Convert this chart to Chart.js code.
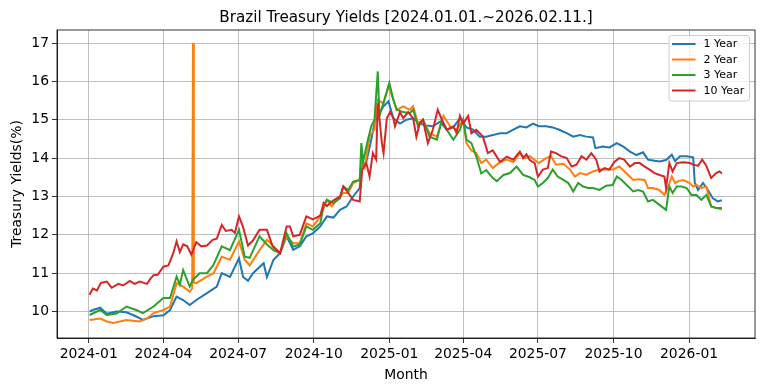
<!DOCTYPE html>
<html>
<head>
<meta charset="utf-8">
<title>Brazil Treasury Yields</title>
<script src="https://cdn.jsdelivr.net/npm/chart.js@4"></script>
<style>
  html, body { margin: 0; padding: 0; background: #fff; }
  canvas { display: block; }
</style>
</head>
<body>
<canvas id="chart" width="764" height="391"></canvas>
<script>
// day numbers are days since 2024-01-01, values are yields in %
const xTickDays   = [0, 91, 182, 274, 366, 456, 547, 639, 731];
const xTickLabels = ['2024-01', '2024-04', '2024-07', '2024-10', '2025-01', '2025-04', '2025-07', '2025-10', '2026-01'];
const yTicks      = [10, 11, 12, 13, 14, 15, 16, 17];

const oneYearDays = [1,5,14,22,34,46,58,66,79,91, 99,107,115,123,131,144,156,162,172,183,
  188,194,200,213,217,225,233,241,249,257, 265,273,282,290,298,306,314,322,330,332,
  338,344,348,352,359,365,371,379,387,395, 403,411,419,428,436,444,452,460,468,476,
  484,492,501,509,517,525,533,541,548,557, 565,573,582,590,598,606,614,617,626,634,
  643,651,659,667,675,681,687,695,703,710, 714,720,728,736,738,742,748,754,760,766, 771];
const oneYear = [10.0,10.04,10.1,9.94,10.0,9.98,9.87,9.78,9.88,9.9, 10.04,10.39,10.3,10.17,10.3,10.48,10.65,11.0,10.9,11.39,
  10.9,10.8,11.0,11.26,10.9,11.35,11.52,11.96,11.61,11.7, 11.96,12.04,12.22,12.48,12.45,12.65,12.74,13.0,13.22,13.78,
  13.9,14.48,14.91,15.1,15.35,15.48,15.04,14.9,15.0,15.04, 14.9,14.85,14.83,14.95,14.74,14.8,15.04,14.8,14.74,14.56,
  14.56,14.6,14.65,14.65,14.74,14.83,14.8,14.9,14.83,14.83, 14.8,14.74,14.65,14.56,14.6,14.56,14.54,14.26,14.3,14.28,
  14.39,14.3,14.17,14.08,14.15,13.96,13.94,13.91,13.95,14.09, 13.92,14.05,14.05,14.02,13.35,13.17,13.35,13.17,12.95,12.87, 12.9];

const twoYearDays = [1,14,22,30,46,62,71,79,91,99, 107,115,123,126,127,128,131,144,152,162,
  172,183,190,196,208,217,225,233,241,249, 257,265,273,282,290,296,302,310,316,322,
  330,332,336,342,348,352,359,365,371,375, 383,391,395,401,407,415,424,432,440,448,
  456,460,466,472,478,484,492,501,509,517, 525,531,537,543,548,557,563,569,578,586,
  592,598,606,614,622,630,638,646,655,663, 669,677,681,687,695,701,705,710,714,718,
  724,732,736,740,746,752,758,764,771];
const twoYear = [9.78,9.82,9.74,9.7,9.78,9.74,9.82,9.96,10.04,10.13, 10.74,10.65,10.52,10.6,17.0,10.75,10.74,10.91,11.0,11.43,
  11.35,11.83,11.35,11.2,11.6,11.87,11.7,11.52,11.96,11.78, 11.78,12.3,12.22,12.48,12.91,12.74,12.91,13.09,13.09,13.35,
  13.43,13.9,13.74,14.57,14.74,15.52,15.43,15.87,15.52,15.26, 15.35,15.26,15.35,14.9,15.0,14.65,14.56,15.1,14.83,14.74,
  15.0,14.39,14.2,14.13,13.87,13.96,13.74,13.9,13.96,13.9, 14.13,14.0,14.05,13.95,13.87,14.0,14.05,13.83,13.85,13.7,
  13.52,13.61,13.57,13.65,13.7,13.7,13.7,13.78,13.6,13.43, 13.45,13.43,13.22,13.22,13.17,13.04,13.22,13.52,13.35,13.4,
  13.43,13.35,13.26,13.3,13.22,13.26,12.74,12.7,12.66];

const threeYearDays = [1,14,22,34,46,58,66,79,91,99, 107,111,115,123,127,135,144,152,162,172,
  183,190,196,208,217,225,233,241,249,257, 265,273,282,286,290,298,306,310,316,322,
  330,332,334,340,344,348,352,354,360,366, 371,375,383,391,395,401,407,415,424,430,
  436,444,452,456,460,466,472,478,484,492, 497,505,513,521,529,537,543,547,553,559,
  565,571,578,584,590,596,602,608,614,622, 630,638,643,649,655,663,669,675,681,687,
  695,703,707,711,716,722,728,734,740,746, 752,758,764,771];
const threeYear = [9.91,10.04,9.91,9.95,10.13,10.04,9.96,10.13,10.35,10.35, 10.91,10.7,11.08,10.65,10.83,11.0,11.0,11.22,11.7,11.6,
  12.13,11.43,11.4,11.96,11.75,11.6,11.52,12.04,11.69,11.75, 12.22,12.13,12.3,12.75,12.91,12.83,12.95,13.26,13.17,13.39,
  13.43,14.39,13.9,14.48,14.83,15.0,16.26,15.1,15.52,15.96, 15.52,15.26,15.2,15.17,15.26,14.83,15.0,14.56,14.48,15.0,
  14.74,14.48,14.74,15.0,14.48,14.39,14.04,13.6,13.69,13.48, 13.4,13.56,13.61,13.78,13.56,13.5,13.43,13.26,13.35,13.48,
  13.7,13.52,13.43,13.35,13.13,13.35,13.26,13.22,13.22,13.17, 13.28,13.3,13.52,13.43,13.3,13.13,13.17,13.13,12.87,12.91,
  12.78,12.65,13.26,13.09,13.26,13.26,13.22,13.04,13.04,12.91, 13.04,12.74,12.7,12.7];

const tenYearDays = [1,5,10,15,22,28,36,42,50,56, 62,71,75,79,84,91,97,103,107,111,
  115,120,125,131,137,144,151,156,162,167, 174,178,183,188,194,200,208,217,224,233,
  241,245,249,257,265,273,282,286,290,298, 306,310,316,322,330,333,338,342,346,350,
  352,354,357,359,363,367,371,373,379,383, 389,395,399,403,407,413,419,425,432,436,
  444,448,452,456,462,466,472,480,486,492, 501,509,517,525,529,533,537,543,547,553,
  559,563,569,575,582,588,594,600,606,612, 618,622,628,634,640,646,652,659,665,671,
  677,683,689,695,701,703,707,711,716,724, 732,736,742,747,752,758,764,768,771];
const tenYear = [10.44,10.6,10.55,10.75,10.78,10.62,10.72,10.68,10.8,10.72, 10.78,10.72,10.85,10.95,10.96,11.17,11.2,11.52,11.83,11.55,
  11.75,11.7,11.48,11.81,11.7,11.72,11.87,11.9,12.26,12.1, 12.13,12.05,12.48,12.2,11.72,11.85,12.13,12.13,11.7,11.52,
  12.22,12.22,11.96,12.0,12.48,12.4,12.5,12.83,12.75,12.9, 13.0,13.26,13.09,12.91,12.87,13.7,13.87,13.52,14.13,13.96,
  15.43,15.04,14.39,14.13,15.04,15.2,15.04,14.83,15.2,15.04, 15.2,15.04,14.56,14.9,15.0,14.39,14.74,15.26,14.9,14.74,
  14.83,14.65,15.1,14.9,15.1,14.65,14.74,14.56,14.13,14.2, 13.9,14.04,13.96,14.17,14.0,14.1,13.95,13.87,13.52,13.7,
  13.74,14.17,14.13,14.05,14.0,13.78,13.83,14.05,13.96,14.13, 13.96,13.65,13.74,13.7,13.9,14.0,13.96,13.78,13.87,13.87,
  13.78,13.7,13.61,13.56,13.52,13.22,13.87,13.65,13.87,13.89, 13.87,13.83,13.8,13.96,13.8,13.48,13.61,13.65,13.6];

const seriesNames  = ['1 Year', '2 Year', '3 Year', '10 Year'];
const seriesColors = ['#1f77b4', '#ff7f0e', '#2ca02c', '#d62728'];

const FONT = "'DejaVu Sans', 'Liberation Sans', sans-serif";

function pairUp(days, vals) {
  return days.map((d, i) => ({ x: d, y: vals[i] }));
}

const allSeries = [
  pairUp(oneYearDays, oneYear),
  pairUp(twoYearDays, twoYear),
  pairUp(threeYearDays, threeYear),
  pairUp(tenYearDays, tenYear)
];

// title, axis titles, spines and the boxed legend, drawn like matplotlib does
const decorations = {
  id: 'decorations',
  afterDatasetsDraw(chart) {
    const { ctx, chartArea: a } = chart;
    ctx.save();

    ctx.strokeStyle = '#000';
    ctx.lineWidth = 0.8;
    ctx.strokeRect(a.left, a.top, a.right - a.left, a.bottom - a.top);

    ctx.fillStyle = '#000';
    ctx.textAlign = 'center';
    ctx.textBaseline = 'alphabetic';
    ctx.font = '15.2px ' + FONT;
    ctx.fillText('Brazil Treasury Yields [2024.01.01.~2026.02.11.]', (a.left + a.right) / 2, 22);
    ctx.font = '13.9px ' + FONT;
    ctx.fillText('Month', (a.left + a.right) / 2, 379);

    ctx.save();
    ctx.translate(20.5, (a.top + a.bottom) / 2);
    ctx.rotate(-Math.PI / 2);
    ctx.fillText('Treasury Yields(%)', 0, 0);
    ctx.restore();

    // legend box
    const bx = 669, by = 35.5, bw = 80.5, bh = 65.5;
    ctx.beginPath();
    ctx.roundRect(bx, by, bw, bh, 2.5);
    ctx.fillStyle = 'rgba(255,255,255,0.8)';
    ctx.fill();
    ctx.strokeStyle = '#cccccc';
    ctx.lineWidth = 1;
    ctx.stroke();

    ctx.font = '11px ' + FONT;
    ctx.textAlign = 'left';
    ctx.textBaseline = 'middle';
    chart.data.datasets.forEach((ds, i) => {
      const y = 44 + i * 15.5;
      ctx.beginPath();
      ctx.moveTo(672, y);
      ctx.lineTo(695.5, y);
      ctx.strokeStyle = ds.borderColor;
      ctx.lineWidth = 2;
      ctx.stroke();
      ctx.fillStyle = '#000';
      ctx.fillText(ds.label, 703.5, y + 0.5);
    });

    ctx.restore();
  }
};

new Chart(document.getElementById('chart'), {
  type: 'line',
  data: {
    datasets: allSeries.map((pts, i) => ({
      label: seriesNames[i],
      data: pts,
      borderColor: seriesColors[i],
      backgroundColor: seriesColors[i],
      borderWidth: 2,
      pointRadius: 0,
      tension: 0,
      fill: false,
      order: allSeries.length - i
    }))
  },
  options: {
    responsive: false,
    animation: false,
    devicePixelRatio: 1,
    layout: { padding: { top: 30, right: 9, left: 0, bottom: 0 } },
    plugins: {
      legend: { display: false },
      title: { display: false },
      tooltip: { enabled: false }
    },
    scales: {
      x: {
        type: 'linear',
        min: -38.6,
        max: 811.3,
        afterBuildTicks: s => { s.ticks = xTickDays.map(v => ({ value: v })); },
        afterFit: s => { s.height = 53; },
        ticks: {
          autoSkip: false,
          maxRotation: 0,
          padding: 3,
          color: '#000',
          font: { family: FONT, size: 13.9 },
          callback: v => xTickLabels[xTickDays.indexOf(v)]
        },
        grid: { color: '#b0b0b0', lineWidth: 0.8, tickColor: '#000', tickLength: 5, tickWidth: 0.8 },
        border: { display: true, color: '#000', width: 0.8 }
      },
      y: {
        type: 'linear',
        min: 9.31,
        max: 17.34,
        afterBuildTicks: s => { s.ticks = yTicks.map(v => ({ value: v })); },
        afterFit: s => { s.width = 57; },
        ticks: {
          padding: 3,
          color: '#000',
          font: { family: FONT, size: 13.9 },
          callback: v => String(v)
        },
        grid: { color: '#b0b0b0', lineWidth: 0.8, tickColor: '#000', tickLength: 5, tickWidth: 0.8 },
        border: { display: true, color: '#000', width: 0.8 }
      }
    }
  },
  plugins: [decorations]
});
</script>
</body>
</html>
